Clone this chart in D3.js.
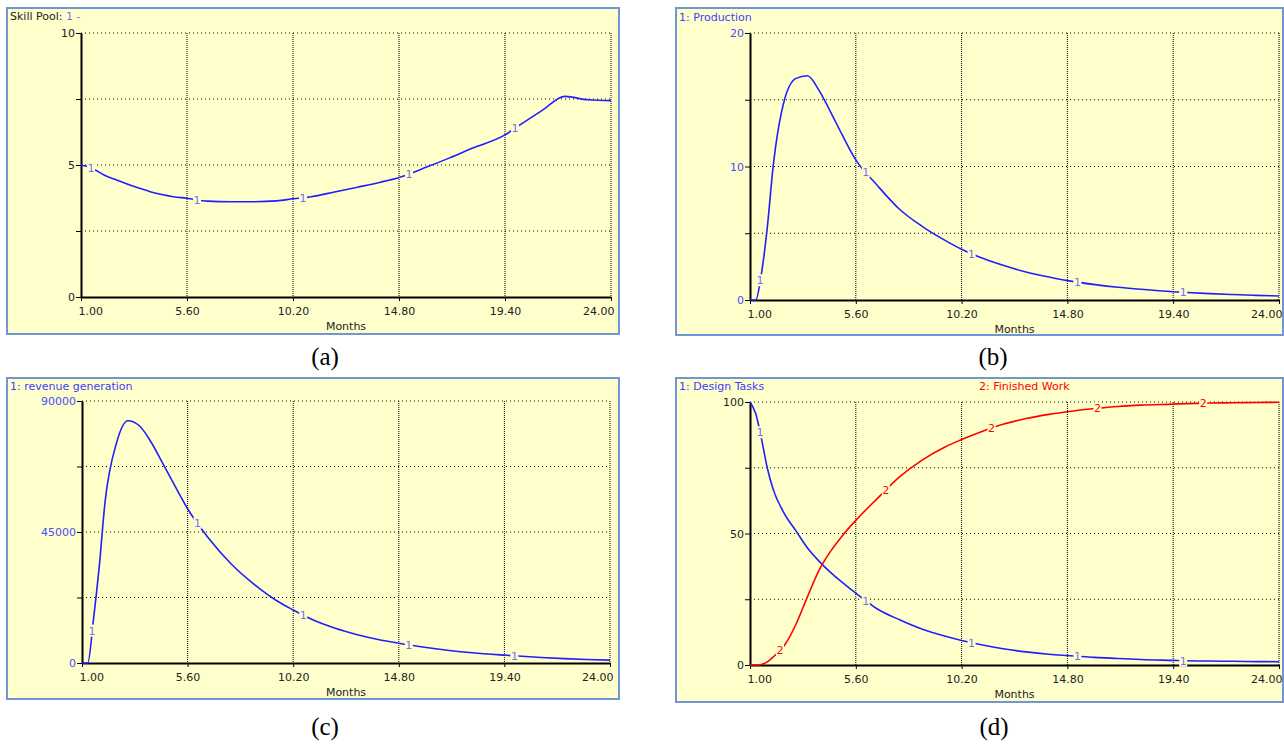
<!DOCTYPE html>
<html>
<head>
<meta charset="utf-8">
<script src="https://cdn.jsdelivr.net/npm/d3@7"></script>
<style>
body { margin: 0; background: #fff; }
svg text { font-family: "DejaVu Sans", sans-serif; font-size: 11px; }
svg text.caption { font-family: "Liberation Serif", "Times New Roman", serif; font-size: 25px; }
</style>
</head>
<body>
<svg id="chart" width="1284" height="744"></svg>
<script>
// simulation time (months) shared by every series
var months = [1, 1.25, 1.5, 1.75, 2, 2.5, 3, 3.5, 4, 4.5, 5, 5.6, 6.5, 7.5, 8.5, 9.5, 10.2,
    11, 12, 13, 14, 14.8, 16, 17, 18, 19.4, 20, 21, 22, 23, 24];

var skillPool = [5.0, 4.95, 4.85, 4.75, 4.62, 4.45, 4.28, 4.13, 3.99, 3.88, 3.8, 3.74, 3.63, 3.61,
    3.61, 3.64, 3.72, 3.8, 3.98, 4.16, 4.35, 4.53, 4.92, 5.27, 5.64, 6.14, 6.49, 7.06, 7.6, 7.47, 7.44];

var production = [0, 0, 2.0, 5.4, 9.9, 15.0, 16.6, 16.8, 15.7, 14.1, 12.4, 10.5, 8.65, 6.8, 5.5,
    4.45, 3.8, 3.2, 2.6, 2.1, 1.72, 1.45, 1.15, 0.95, 0.8, 0.62, 0.56, 0.48, 0.41, 0.35, 0.3];

var revenue = [0, 0, 15000, 33000, 55000, 75500, 83200, 81500, 76000, 68800, 61500, 53000, 43000,
    34000, 27000, 21300, 18200, 15000, 12000, 9700, 7900, 6800, 5300, 4300, 3500, 2700, 2400,
    1900, 1500, 1200, 1000];

var designTasks = [100, 95.5, 86, 75, 67, 57.5, 51, 44.5, 39.5, 35.2, 31.5, 27.3, 21.5, 17.2, 13.6,
    10.9, 9.3, 7.8, 6.2, 5.0, 4.1, 3.6, 2.9, 2.5, 2.1, 1.75, 1.6, 1.5, 1.4, 1.3, 1.25];

var finishedWork = [0, 0, 0.2, 1.2, 3, 7.5, 15.5, 26, 36, 43.2, 49, 55, 63, 71.5, 78, 83, 85.7,
    88.5, 91.5, 93.7, 95.3, 96.3, 97.5, 98.3, 98.8, 99.2, 99.4, 99.6, 99.7, 99.8, 99.9];

var monthTicks = [1, 5.6, 10.2, 14.8, 19.4, 24];
var skillMax = 10, productionMax = 20, revenueMax = 90000, tasksMax = 100;

var bg = "#ffffcc";
var blue = "#1f1fff";
var red = "#ff0000";
var violet = "#7c6cf2";
var dark = "#222";

var svg = d3.select("#chart");

var panels = [
    {box: [7, 8, 619, 334], x: [81, 611], y: [33, 297], yMax: skillMax, yColor: dark,
        title: [["Skill Pool: ", dark], ["1 -", violet]], titleY: 20, caption: "(a)", capX: 325, capY: 365,
        series: [{values: skillPool, color: blue, label: "1", labelColor: violet, offset: 10}]},
    {box: [676, 8, 1283, 335], x: [750, 1279], y: [33, 300], yMax: productionMax, yColor: "#4b4bff",
        title: [["1: Production", "#3d3dff"]], titleY: 21, caption: "(b)", capX: 993, capY: 365,
        series: [{values: production, color: blue, label: "1", labelColor: violet, offset: 10}]},
    {box: [7, 378, 619, 699], x: [82, 610], y: [401, 663], yMax: revenueMax, yColor: "#4b4bff",
        title: [["1: revenue generation", "#3d3dff"]], titleY: 390, caption: "(c)", capX: 325, capY: 735,
        series: [{values: revenue, color: blue, label: "1", labelColor: violet, offset: 10}]},
    {box: [676, 378, 1283, 702], x: [750, 1279], y: [402, 665], yMax: tasksMax, yColor: dark,
        title: [["1: Design Tasks", "#3d3dff"]], title2: ["2: Finished Work", red, 979],
        titleY: 390, caption: "(d)", capX: 994, capY: 735,
        series: [{values: designTasks, color: blue, label: "1", labelColor: violet, offset: 10},
                 {values: finishedWork, color: red, label: "2", labelColor: red, offset: 30}]}
];

function valueAt(values, m) {
    var i = d3.bisectRight(months, m);
    if (i <= 0) return values[0];
    if (i >= months.length) return values[values.length - 1];
    var t = (m - months[i - 1]) / (months[i] - months[i - 1]);
    return values[i - 1] + t * (values[i] - values[i - 1]);
}

function drawPanel(p) {
    var g = svg.append("g");

    g.append("rect")
        .attr("x", p.box[0]).attr("y", p.box[1])
        .attr("width", p.box[2] - p.box[0]).attr("height", p.box[3] - p.box[1])
        .attr("fill", bg)
        .attr("stroke", "#6e97d8")
        .attr("stroke-width", 2);

    var title = g.append("text")
        .attr("x", p.box[0] + 3)
        .attr("y", p.titleY);
    p.title.forEach(function (t) {
        title.append("tspan").attr("fill", t[1]).text(t[0]);
    });
    if (p.title2) {
        g.append("text").attr("x", p.title2[2]).attr("y", p.titleY)
            .attr("fill", p.title2[1]).text(p.title2[0]);
    }

    var xScale = d3.scaleLinear().domain([1, 24]).range(p.x);
    var yScale = d3.scaleLinear().domain([0, p.yMax]).range([p.y[1], p.y[0]]);
    var yTicks = [0, 0.25, 0.5, 0.75, 1].map(function (f) { return f * p.yMax; });

    // dotted grid
    g.append("g").selectAll("line")
        .data(yTicks.slice(1)).enter().append("line")
        .attr("x1", p.x[0]).attr("x2", p.x[1])
        .attr("y1", function (d) { return yScale(d); })
        .attr("y2", function (d) { return yScale(d); })
        .attr("stroke", "#000")
        .attr("stroke-dasharray", "1,3");
    g.append("g").selectAll("line")
        .data(monthTicks.slice(1)).enter().append("line")
        .attr("x1", function (d) { return xScale(d); })
        .attr("x2", function (d) { return xScale(d); })
        .attr("y1", p.y[0]).attr("y2", p.y[1])
        .attr("stroke", "#000")
        .attr("stroke-dasharray", "1,1");

    var yAxis = d3.axisLeft(yScale)
        .tickValues(yTicks)
        .tickSize(5).tickSizeOuter(0).tickPadding(1)
        .tickFormat(function (d, i) { return i % 2 === 0 ? d : ""; });
    var ya = g.append("g")
        .attr("transform", "translate(" + p.x[0] + ",0)")
        .call(yAxis);
    ya.select(".domain").attr("stroke", "#000").attr("stroke-width", 2);
    ya.selectAll("line").attr("stroke", "#000");
    ya.selectAll("text").style("fill", p.yColor);

    var xAxis = d3.axisBottom(xScale)
        .tickValues(monthTicks)
        .tickSize(4).tickSizeOuter(0).tickPadding(6)
        .tickFormat(d3.format(".2f"));
    var xa = g.append("g")
        .attr("transform", "translate(0," + p.y[1] + ")")
        .call(xAxis);
    xa.select(".domain").attr("stroke", "#000").attr("stroke-width", 2);
    xa.selectAll("line").attr("stroke", "#000");
    xa.selectAll("text").style("fill", dark)
        .attr("text-anchor", function (d, i) {
            return i === 0 ? "start" : (i === monthTicks.length - 1 ? "end" : "middle");
        })
        .attr("dx", function (d, i) { return i === 0 ? -3 : (i === monthTicks.length - 1 ? 3 : 0); });

    g.append("text")
        .attr("x", (p.x[0] + p.x[1]) / 2)
        .attr("y", p.y[1] + 33)
        .attr("text-anchor", "middle")
        .attr("fill", dark)
        .text("Months");

    var line = d3.line()
        .x(function (d, i) { return xScale(months[i]); })
        .y(function (d) { return yScale(d); })
        .curve(d3.curveMonotoneX);

    p.series.forEach(function (s) {
        g.append("path")
            .datum(s.values)
            .attr("d", line)
            .attr("fill", "none")
            .attr("stroke", s.color)
            .attr("stroke-width", 1.6);

        var marks = monthTicks.slice(0, -1).map(function (t) {
            var m = xScale.invert(xScale(t) + s.offset);
            return {m: m, v: valueAt(s.values, m)};
        });
        var lg = g.append("g").selectAll("g")
            .data(marks).enter().append("g")
            .attr("transform", function (d) {
                return "translate(" + xScale(d.m) + "," + yScale(d.v) + ")";
            });
        lg.append("rect")
            .attr("x", -4).attr("y", -6).attr("width", 8).attr("height", 12)
            .attr("fill", bg);
        lg.append("text")
            .attr("text-anchor", "middle")
            .attr("dy", "0.36em")
            .attr("fill", s.labelColor)
            .text(s.label);
    });

    svg.append("text")
        .attr("class", "caption")
        .attr("x", p.capX).attr("y", p.capY)
        .attr("text-anchor", "middle")
        .attr("fill", "#000")
        .text(p.caption);
}

panels.forEach(drawPanel);
</script>
</body>
</html>
